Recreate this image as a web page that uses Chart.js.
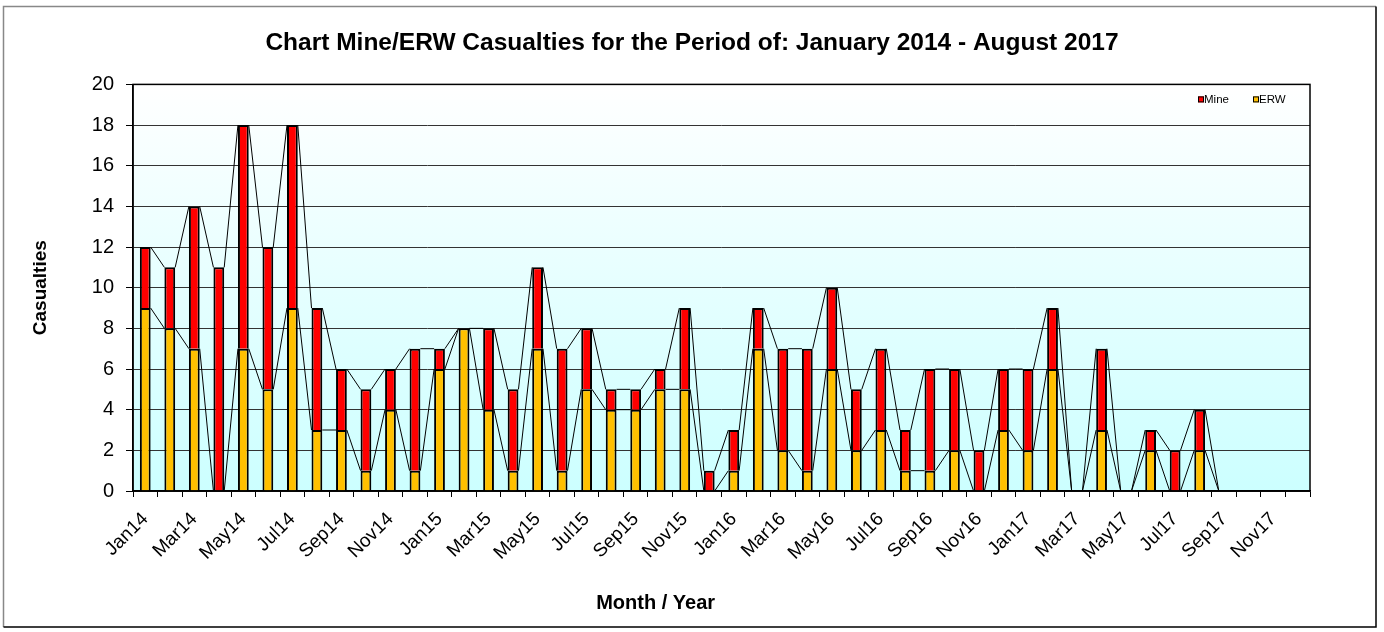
<!DOCTYPE html>
<html><head><meta charset="utf-8">
<script src="https://cdn.jsdelivr.net/npm/chart.js@4/dist/chart.umd.min.js"></script>
<style>html,body{margin:0;padding:0;background:#fff}canvas{display:block}</style>
</head><body>
<canvas id="c" width="1384" height="632"></canvas>
<script>
const chartTitle = 'Chart Mine/ERW Casualties for the Period of: January 2014 - August 2017';
const xAxisTitle = 'Month / Year';
const yAxisTitle = 'Casualties';
const categories = ['Jan14','Feb14','Mar14','Apr14','May14','Jun14','Jul14','Aug14','Sep14','Oct14','Nov14','Dec14',
  'Jan15','Feb15','Mar15','Apr15','May15','Jun15','Jul15','Aug15','Sep15','Oct15','Nov15','Dec15',
  'Jan16','Feb16','Mar16','Apr16','May16','Jun16','Jul16','Aug16','Sep16','Oct16','Nov16','Dec16',
  'Jan17','Feb17','Mar17','Apr17','May17','Jun17','Jul17','Aug17','Sep17','Oct17','Nov17','Dec17'];
const erwValues = [9,8,7,0,7,5,9,3,3,1,4,1, 6,8,4,1,7,1,5,4,4,5,5,0, 1,7,2,1,6,2,3,1,1,2,0,3, 2,6,0,3,0,2,0,2,0,null,null,null];
const mineValues = [3,3,7,11,11,7,9,6,3,4,2,6, 1,0,4,4,4,6,3,1,1,1,4,1, 2,2,5,6,4,3,4,2,5,4,2,3, 4,3,0,4,0,1,2,2,0,null,null,null];
const seriesNames = ['ERW','Mine'];
const seriesColors = ['#FFC000','#FF0000'];
const yMin = 0, yMax = 20, yStep = 2;

const FONT = "'Liberation Sans', Arial, sans-serif";
Chart.defaults.font.family = FONT;
Chart.defaults.color = '#000';

const frame = {
  id: 'frame',
  beforeDraw(chart) {
    const {ctx, chartArea: a} = chart;
    ctx.save();
    ctx.fillStyle = '#fff';
    ctx.fillRect(0, 0, chart.width, chart.height);
    const g = ctx.createLinearGradient(0, a.top, 0, a.bottom);
    g.addColorStop(0, '#ffffff');
    g.addColorStop(1, '#ccffff');
    ctx.fillStyle = g;
    ctx.fillRect(a.left, a.top, a.right - a.left, a.bottom - a.top);
    ctx.lineWidth = 1.5;
    ctx.strokeStyle = '#888';
    ctx.beginPath(); ctx.moveTo(3.5, 627); ctx.lineTo(3.5, 6.5); ctx.lineTo(1376, 6.5); ctx.stroke();
    ctx.strokeStyle = '#000';
    ctx.beginPath(); ctx.moveTo(1376, 6.5); ctx.lineTo(1376, 627); ctx.lineTo(3.5, 627); ctx.stroke();
    ctx.restore();
  }
};

const seriesLines = {
  id: 'seriesLines',
  afterDatasetsDraw(chart) {
    const {ctx, chartArea: a} = chart;
    ctx.save();
    ctx.strokeStyle = '#000';
    ctx.lineWidth = 1;
    chart.data.datasets.forEach((ds, di) => {
      const meta = chart.getDatasetMeta(di);
      for (let i = 0; i < meta.data.length - 1; i++) {
        if (ds.data[i] == null || ds.data[i + 1] == null) continue;
        const p = meta.data[i], q = meta.data[i + 1];
        ctx.beginPath();
        ctx.moveTo(p.x + p.width / 2, p.y);
        ctx.lineTo(q.x - q.width / 2, q.y);
        ctx.stroke();
      }
    });
    ctx.lineWidth = 1.5;
    ctx.strokeRect(a.left, a.top, a.right - a.left, a.bottom - a.top);
    ctx.restore();
  }
};

const extras = {
  id: 'extras',
  afterDraw(chart) {
    const {ctx, chartArea: a} = chart;
    ctx.save();
    // legend (Mine first, then ERW)
    const order = [1, 0];
    const xs = [a.right - 112, a.right - 57];
    const y = a.top + 15;
    ctx.font = "11.5px " + FONT;
    ctx.textBaseline = 'middle';
    ctx.textAlign = 'left';
    order.forEach((di, k) => {
      const ds = chart.data.datasets[di];
      ctx.fillStyle = ds.backgroundColor;
      ctx.fillRect(xs[k], y - 3, 6, 6);
      ctx.strokeStyle = '#000';
      ctx.lineWidth = 1;
      ctx.strokeRect(xs[k] + 0.5, y - 2.5, 5, 5);
      ctx.fillStyle = '#000';
      ctx.fillText(ds.label, xs[k] + 6, y);
    });
    // x axis title
    ctx.font = "bold 20px " + FONT;
    ctx.textAlign = 'center';
    ctx.fillText(xAxisTitle, a.left + (a.right - a.left) * 0.444, 603);
    ctx.restore();
  }
};

new Chart(document.getElementById('c'), {
  type: 'bar',
  data: {
    labels: categories,
    datasets: [
      {label: seriesNames[0], data: erwValues, backgroundColor: seriesColors[0], borderColor: '#000', borderWidth: 2},
      {label: seriesNames[1], data: mineValues, backgroundColor: seriesColors[1], borderColor: '#000', borderWidth: 2}
    ]
  },
  options: {
    responsive: false,
    animation: false,
    layout: {padding: {left: 10, right: 10, top: 0, bottom: 0}},
    datasets: {bar: {barPercentage: 0.44, categoryPercentage: 1}},
    plugins: {
      legend: {display: false},
      tooltip: {enabled: false},
      title: {display: true, text: chartTitle, font: {size: 24.5, weight: 'bold'}, padding: {top: 29, bottom: 26}, color: '#000'}
    },
    scales: {
      x: {
        stacked: true,
        grid: {display: true, drawOnChartArea: false, offset: true, tickLength: 6, color: '#000', tickColor: '#000'},
        border: {display: true, color: '#000', width: 1.5},
        ticks: {autoSkip: false, maxRotation: 45, minRotation: 45, padding: 11, font: {size: 19},
          callback: function(v, i) { return i % 2 === 0 ? this.getLabelForValue(v) : ''; }},
        afterFit(s) { s.height = 141; }
      },
      y: {
        stacked: true,
        min: yMin, max: yMax,
        ticks: {stepSize: yStep, padding: 12, font: {size: 20}},
        grid: {color: '#333', lineWidth: 1, tickLength: 7, tickColor: '#000'},
        border: {display: true, color: '#000', width: 1.5},
        title: {display: true, text: yAxisTitle, font: {size: 19, weight: 'bold'}, padding: {top: 19, bottom: 0}},
        afterFit(s) { s.width = 123; }
      },
      y2: {
        position: 'right',
        display: true,
        grid: {display: false},
        border: {display: false},
        ticks: {display: false},
        afterFit(s) { s.width = 64; }
      }
    }
  },
  plugins: [frame, seriesLines, extras]
});
</script>
</body></html>
